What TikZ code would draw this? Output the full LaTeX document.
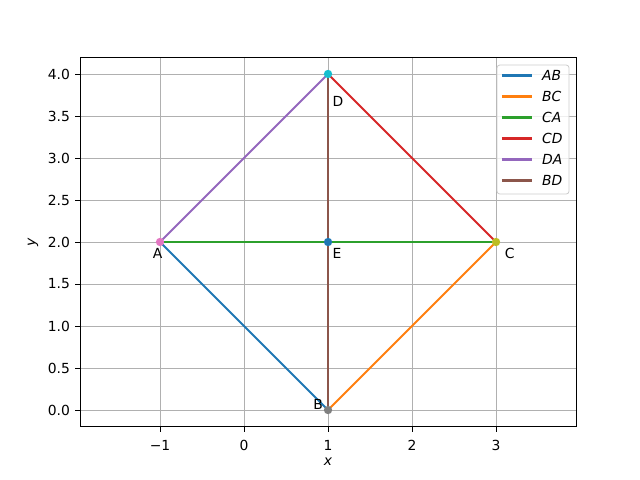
\documentclass[tikz,border=0pt]{standalone}
\usepackage{fontspec}
\setmainfont{DejaVu Sans}
\usepackage{tikz}
\usetikzlibrary{calc}
\definecolor{cA}{HTML}{1F77B4}
\definecolor{cB}{HTML}{FF7F0E}
\definecolor{cC}{HTML}{2CA02C}
\definecolor{cD}{HTML}{D62728}
\definecolor{cE}{HTML}{9467BD}
\definecolor{cF}{HTML}{8C564B}
\definecolor{cG}{HTML}{E377C2}
\definecolor{cH}{HTML}{7F7F7F}
\definecolor{cI}{HTML}{BCBD22}
\definecolor{cJ}{HTML}{17BECF}
\tikzstyle{seg} = [line width=1.18pt]
\tikzstyle{gridline} = [line width=0.45pt, color={rgb,255:red,176;green,176;blue,176}]
\tikzstyle{dot} = [circle, inner sep=0pt, minimum size=0.167cm]
\tikzstyle{txt} = [inner sep=0pt, font=\fontsize{7.9}{9.5}\selectfont]

\begin{document}
\begin{tikzpicture}
    [x=1.68cm, y=1.68cm]
    \useasboundingbox (-2.905,-0.833) rectangle (4.714,4.881);
    % grid
    \foreach \x in {-1,...,3}
      \draw[gridline] (\x,-0.2) -- (\x,4.2);
    \foreach \y in {0,0.5,...,4}
      \draw[gridline] (-1.952,\y) -- (3.952,\y);
    % ticks and tick labels
    \foreach \x/\t in {-1/−1,0/0,1/1,2/2,3/3} {
      \draw[line width=0.45pt] (\x,-0.2) -- ++(0,-0.058);
      \node[txt, anchor=north] at (\x,-0.36) {\t};
    }
    \foreach \y in {0.0,0.5,1.0,1.5,2.0,2.5,3.0,3.5,4.0} {
      \draw[line width=0.45pt] (-1.952,\y) -- ++(-0.058,0);
      \node[txt, anchor=east] at (-2.068,\y) {\y};
    }
    \node[txt] at (1,-0.62) {\itshape x};
    \node[txt, rotate=90] at (-2.512,2) {\itshape y};
    % the points
    \node[dot] (A) at (-1,2) {};
    \node[dot] (B) at (1,0) {};
    \node[dot] (C) at (3,2) {};
    \node[dot] (D) at (1,4) {};
    \node[dot] (E) at (1,2) {};
    % sides
    \draw[seg, cA] (A.center) -- (B.center);
    \draw[seg, cB] (B.center) -- (C.center);
    \draw[seg, cC] (C.center) -- (A.center);
    \draw[seg, cD] (C.center) -- (D.center);
    \draw[seg, cE] (D.center) -- (A.center);
    \draw[seg, cF] (B.center) -- (D.center);
    \fill[cG] (A) circle (0.0497);
    \fill[cH] (B) circle (0.0497);
    \fill[cI] (C) circle (0.0497);
    \fill[cJ] (D) circle (0.0497);
    \fill[cA] (E) circle (0.0497);
    % point labels
    \node[txt, anchor=base west] at (-1.09,1.8) {A};
    \node[txt, anchor=base west] at (0.82,0.01) {B};
    \node[txt, anchor=base west] at (3.1,1.8) {C};
    \node[txt, anchor=base west] at (1.05,3.61) {D};
    \node[txt, anchor=base west] at (1.05,1.8) {E};
    % frame
    \draw[line width=0.45pt] (-1.952,-0.2) rectangle (3.952,4.2);
    % legend
    \draw[rounded corners=0.056cm, line width=0.45pt, draw={rgb,255:red,204;green,204;blue,204},
      fill=white, fill opacity=0.8] (3.012,2.571) rectangle (3.869,4.107);
    \foreach \n/\c/\l in {0/cA/AB,1/cB/BC,2/cC/CA,3/cD/CD,4/cE/DA,5/cF/BD} {
      \draw[seg, \c] (3.071,3.982-0.25*\n) -- (3.429,3.982-0.25*\n);
      \node[txt, anchor=west] at (3.544,3.982-0.25*\n) {\itshape \l};
    }
  \end{tikzpicture}
\end{document}
